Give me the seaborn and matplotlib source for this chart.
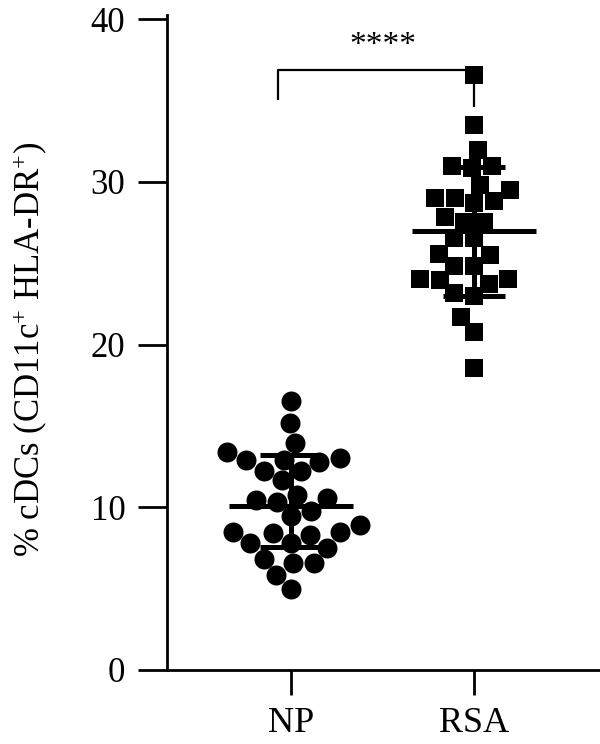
import numpy as np
import pandas as pd
import matplotlib
matplotlib.use("Agg")
import matplotlib.pyplot as plt
import seaborn as sns

# ---- data ----
groups = ["NP", "RSA"]
np_values = [16.5, 15.15, 13.95, 13.4, 12.8, 12.9, 12.9, 13.05, 12.25, 12.2,
             11.65, 10.75, 10.55, 10.45, 10.35, 9.75, 9.45, 8.5, 8.9, 8.4,
             8.5, 7.8, 7.8, 6.85, 7.5, 6.55, 6.55, 5.85, 5.0, 8.3]
rsa_values = [36.55, 33.5, 31.95, 30.95, 30.95, 30.85, 29.8, 29.5, 29.0, 29.0,
              28.8, 28.7, 27.85, 27.55, 27.55, 26.55, 26.55, 25.5, 25.55, 24.8,
              24.8, 24.05, 23.75, 23.95, 24.0, 23.15, 23.0, 21.7, 20.8, 18.55]
centers = [10.1, 26.95]
lower = [7.55, 23.0]
upper = [13.2, 30.9]
y_ticks = [0, 10, 20, 30, 40]
y_label = "% cDCs (CD11c$^{+}$ HLA-DR$^{+}$)"
sig_text = "****"
bracket_top = 36.9
bracket_left_end = 35.0
bracket_right_end = 34.6

df = pd.DataFrame({
    "group": ["NP"] * len(np_values) + ["RSA"] * len(rsa_values),
    "value": np_values + rsa_values,
})

sns.set_style("ticks")
plt.rcParams["font.family"] = ["Liberation Serif", "DejaVu Serif"]
plt.rcParams["mathtext.fontset"] = "custom"
plt.rcParams["mathtext.rm"] = "Liberation Serif"
plt.rcParams["mathtext.it"] = "Liberation Serif:italic"
plt.rcParams["mathtext.bf"] = "Liberation Serif:bold"
plt.rcParams["text.color"] = "black"
plt.rcParams["axes.labelcolor"] = "black"
plt.rcParams["xtick.color"] = "black"
plt.rcParams["ytick.color"] = "black"
plt.rcParams["axes.edgecolor"] = "black"

fig = plt.figure(figsize=(6, 7.44), dpi=100)
ax = fig.add_axes([167 / 600, 1 - 670 / 744, 1 - 167 / 600, (670 - 15) / 744])

markers = {"NP": "o", "RSA": "s"}
sizes = {"NP": 14.4, "RSA": 13.6}
for g in groups:
    sub = df[df["group"] == g]
    sns.swarmplot(data=sub, x="group", y="value", order=groups, ax=ax,
                  color="black", marker=markers[g], size=sizes[g],
                  linewidth=0, edgecolor="black", zorder=3)

# mean and error bars
for i, g in enumerate(groups):
    ax.hlines(centers[i], i - 0.34, i + 0.34, color="black", lw=3.6, zorder=4)
    ax.vlines(i, lower[i], upper[i], color="black", lw=3.6, zorder=4)
    ax.hlines([lower[i], upper[i]], i - 0.17, i + 0.17, color="black", lw=3.6, zorder=4)

# significance bracket
ax.plot([-0.07, -0.07, 1.0, 1.0],
        [bracket_left_end, bracket_top, bracket_top, bracket_right_end],
        color="black", lw=1.6, zorder=2, solid_capstyle="butt")
ax.text(0.5, bracket_top + 0.5, sig_text, ha="center", va="bottom", fontsize=24)

ax.set_xlim(-0.678, 1.689)
ax.set_ylim(0, 40.25)
ax.set_yticks(y_ticks)
ax.set_yticklabels([str(t) for t in y_ticks])
ax.set_xlabel("")
ax.set_ylabel(y_label, fontsize=25, va="center")
ax.yaxis.set_label_coords(-0.318, 0.49)

sns.despine(ax=ax, top=True, right=True)
for s in ["left", "bottom"]:
    ax.spines[s].set_linewidth(2.0)
ax.tick_params(axis="y", length=21, width=2.0, labelsize=25, pad=9)
ax.tick_params(axis="x", length=18, width=2.0, labelsize=26, pad=9)

fig.savefig("out.png", dpi=100)
